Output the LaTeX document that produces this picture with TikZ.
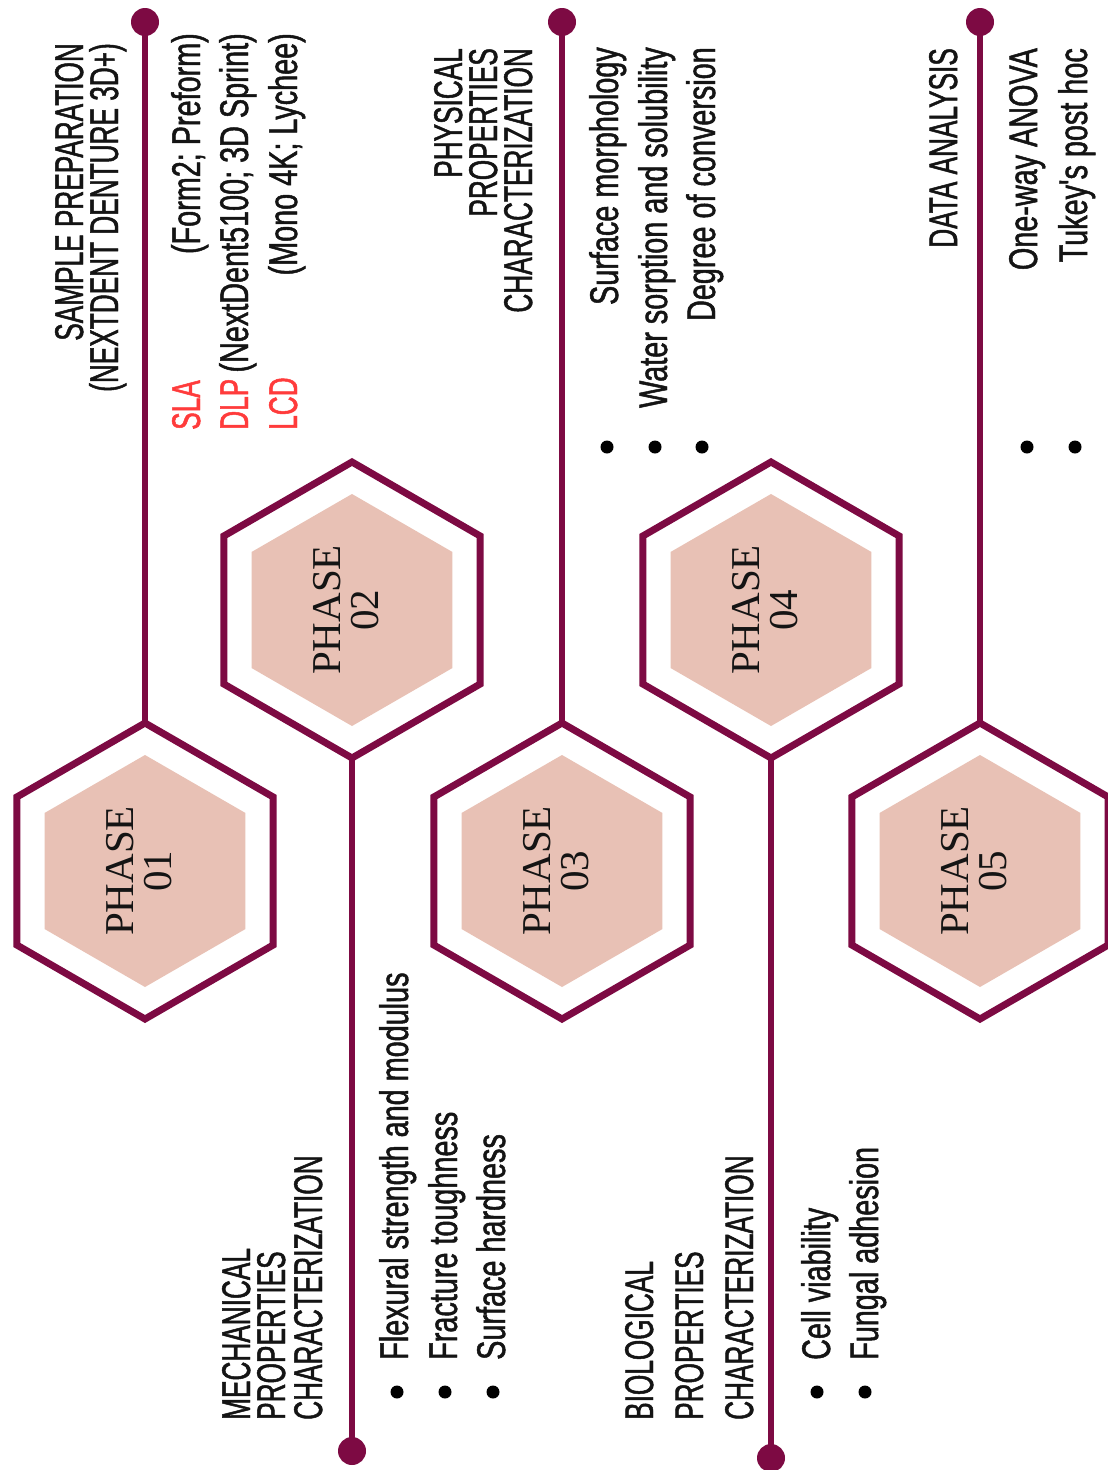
\documentclass[tikz,border=0pt]{standalone}
\usepackage{fontspec}
\setmainfont{Liberation Serif}
\newfontfamily\condcaps[FakeStretch=0.655,FakeBold=1.2]{Liberation Sans}
\newfontfamily\condtext[FakeStretch=0.72,FakeBold=1.2]{Liberation Sans}
\usetikzlibrary{shapes.geometric,backgrounds}
\definecolor{maroon}{RGB}{125,10,67}
\definecolor{hexpink}{RGB}{232,193,181}
\definecolor{redlab}{RGB}{255,59,59}
\definecolor{ink}{RGB}{20,20,20}
\begin{document}
\begin{tikzpicture}[x=1pt,y=-1pt,
  hexout/.style={regular polygon, regular polygon sides=6, shape border rotate=30,
    minimum size=296pt, inner sep=0pt, draw=maroon, line width=7pt, fill=white},
  hexin/.style={regular polygon, regular polygon sides=6, shape border rotate=30,
    minimum size=232pt, inner sep=0pt, fill=hexpink},
  phasetxt/.style={rotate=90, anchor=base, inner sep=0pt, text=ink,
    font=\fontsize{41}{41}\selectfont},
  enddot/.style={circle, fill=maroon, minimum size=28pt, inner sep=0pt},
  bul/.style={circle, fill=black, minimum size=13pt, inner sep=0pt},
  conn/.style={draw=maroon, line width=6.5pt},
  head/.style={rotate=90, inner sep=0pt, text=ink, font=\condcaps\fontsize{40}{40}\selectfont},
  itm/.style={rotate=90, inner sep=0pt, text=ink, font=\condtext\fontsize{40}{40}\selectfont},
  redtxt/.style={rotate=90, inner sep=0pt, text=redlab, font=\condcaps\fontsize{40}{40}\selectfont},
  rend/.style={anchor=base east},
  lstart/.style={anchor=base west}
]
\useasboundingbox (0,0) rectangle (1108,1470);

% end dots
\node[enddot] (d1) at (145,22) {};
\node[enddot] (d2) at (352,1451) {};
\node[enddot] (d3) at (562,22) {};
\node[enddot] (d4) at (771,1458) {};
\node[enddot] (d5) at (980,22) {};

% hexagons
\node[hexout] (h1) at (145,871) {};
\node[hexin]  (i1) at (145,871) {};
\node[hexout] (h2) at (352,610) {};
\node[hexin]  (i2) at (352,610) {};
\node[hexout] (h3) at (562,871) {};
\node[hexin]  (i3) at (562,871) {};
\node[hexout] (h4) at (771,610) {};
\node[hexin]  (i4) at (771,610) {};
\node[hexout] (h5) at (980,871) {};
\node[hexin]  (i5) at (980,871) {};

\node[phasetxt] (p1a) at (133,871) {PHASE};
\node[phasetxt] (p1b) at (171,871) {01};
\node[phasetxt] (p2a) at (340,610) {PHASE};
\node[phasetxt] (p2b) at (378,610) {02};
\node[phasetxt] (p3a) at (550,871) {PHASE};
\node[phasetxt] (p3b) at (588,871) {03};
\node[phasetxt] (p4a) at (759,610) {PHASE};
\node[phasetxt] (p4b) at (797,610) {04};
\node[phasetxt] (p5a) at (968,871) {PHASE};
\node[phasetxt] (p5b) at (1006,871) {05};

\begin{pgfonlayer}{background}
\fill[white] (0,0) rectangle (1108,1470);
\draw[conn] (d1.center) -- (h1.center);
\draw[conn] (h2.center) -- (d2.center);
\draw[conn] (d3.center) -- (h3.center);
\draw[conn] (h4.center) -- (d4.center);
\draw[conn] (d5.center) -- (h5.center);
\end{pgfonlayer}

% Phase 01: sample preparation
\node[head,rend] (sp1) at (83,43) {SAMPLE PREPARATION};
\node[head,rend] (sp2) at (118,43) {(NEXTDENT DENTURE 3D+)};
\node[itm,rend] (si1) at (200,33) {(Form2; Preform)};
\node[itm,rend] (si2) at (248,33) {(NextDent5100; 3D Sprint)};
\node[itm,rend] (si3) at (297,33) {(Mono 4K; Lychee)};
\node[redtxt,lstart] (r1) at (200,430) {SLA};
\node[redtxt,lstart] (r2) at (248,430) {DLP};
\node[redtxt,lstart] (r3) at (297,430) {LCD};

% Phase 02: mechanical
\node[head,lstart] (mh1) at (250,1420) {MECHANICAL};
\node[head,lstart] (mh2) at (285,1420) {PROPERTIES};
\node[head,lstart] (mh3) at (322,1420) {CHARACTERIZATION};
\node[itm,lstart] (mi1) at (408,1360) {Flexural strength and modulus};
\node[itm,lstart] (mi2) at (457,1360) {Fracture toughness};
\node[itm,lstart] (mi3) at (505,1360) {Surface hardness};
\node[bul] (mb1) at (397,1392) {};
\node[bul] (mb2) at (445,1392) {};
\node[bul] (mb3) at (493,1392) {};

% Phase 03: physical
\node[head,rend] (ph1) at (462,48) {PHYSICAL};
\node[head,rend] (ph2) at (497,48) {PROPERTIES};
\node[head,rend] (ph3) at (532,48) {CHARACTERIZATION};
\node[itm,rend] (pi1) at (618,47) {Surface morphology};
\node[itm,rend] (pi2) at (667,47) {Water sorption and solubility};
\node[itm,rend] (pi3) at (715,47) {Degree of conversion};
\node[bul] (pb1) at (607,447) {};
\node[bul] (pb2) at (655,447) {};
\node[bul] (pb3) at (702,447) {};

% Phase 04: biological
\node[head,lstart] (bh1) at (653,1420) {BIOLOGICAL};
\node[head,lstart] (bh2) at (703,1420) {PROPERTIES};
\node[head,lstart] (bh3) at (753,1420) {CHARACTERIZATION};
\node[itm,lstart] (bi1) at (830,1360) {Cell viability};
\node[itm,lstart] (bi2) at (878,1360) {Fungal adhesion};
\node[bul] (bb1) at (817,1392) {};
\node[bul] (bb2) at (865,1392) {};

% Phase 05: data analysis
\node[head,rend] (dh1) at (957,48) {DATA ANALYSIS};
\node[itm,rend] (di1) at (1037,48) {One-way ANOVA};
\node[itm,rend] (di2) at (1087,48) {Tukey's post hoc};
\node[bul] (db1) at (1027,447) {};
\node[bul] (db2) at (1075,447) {};
\end{tikzpicture}
\end{document}
